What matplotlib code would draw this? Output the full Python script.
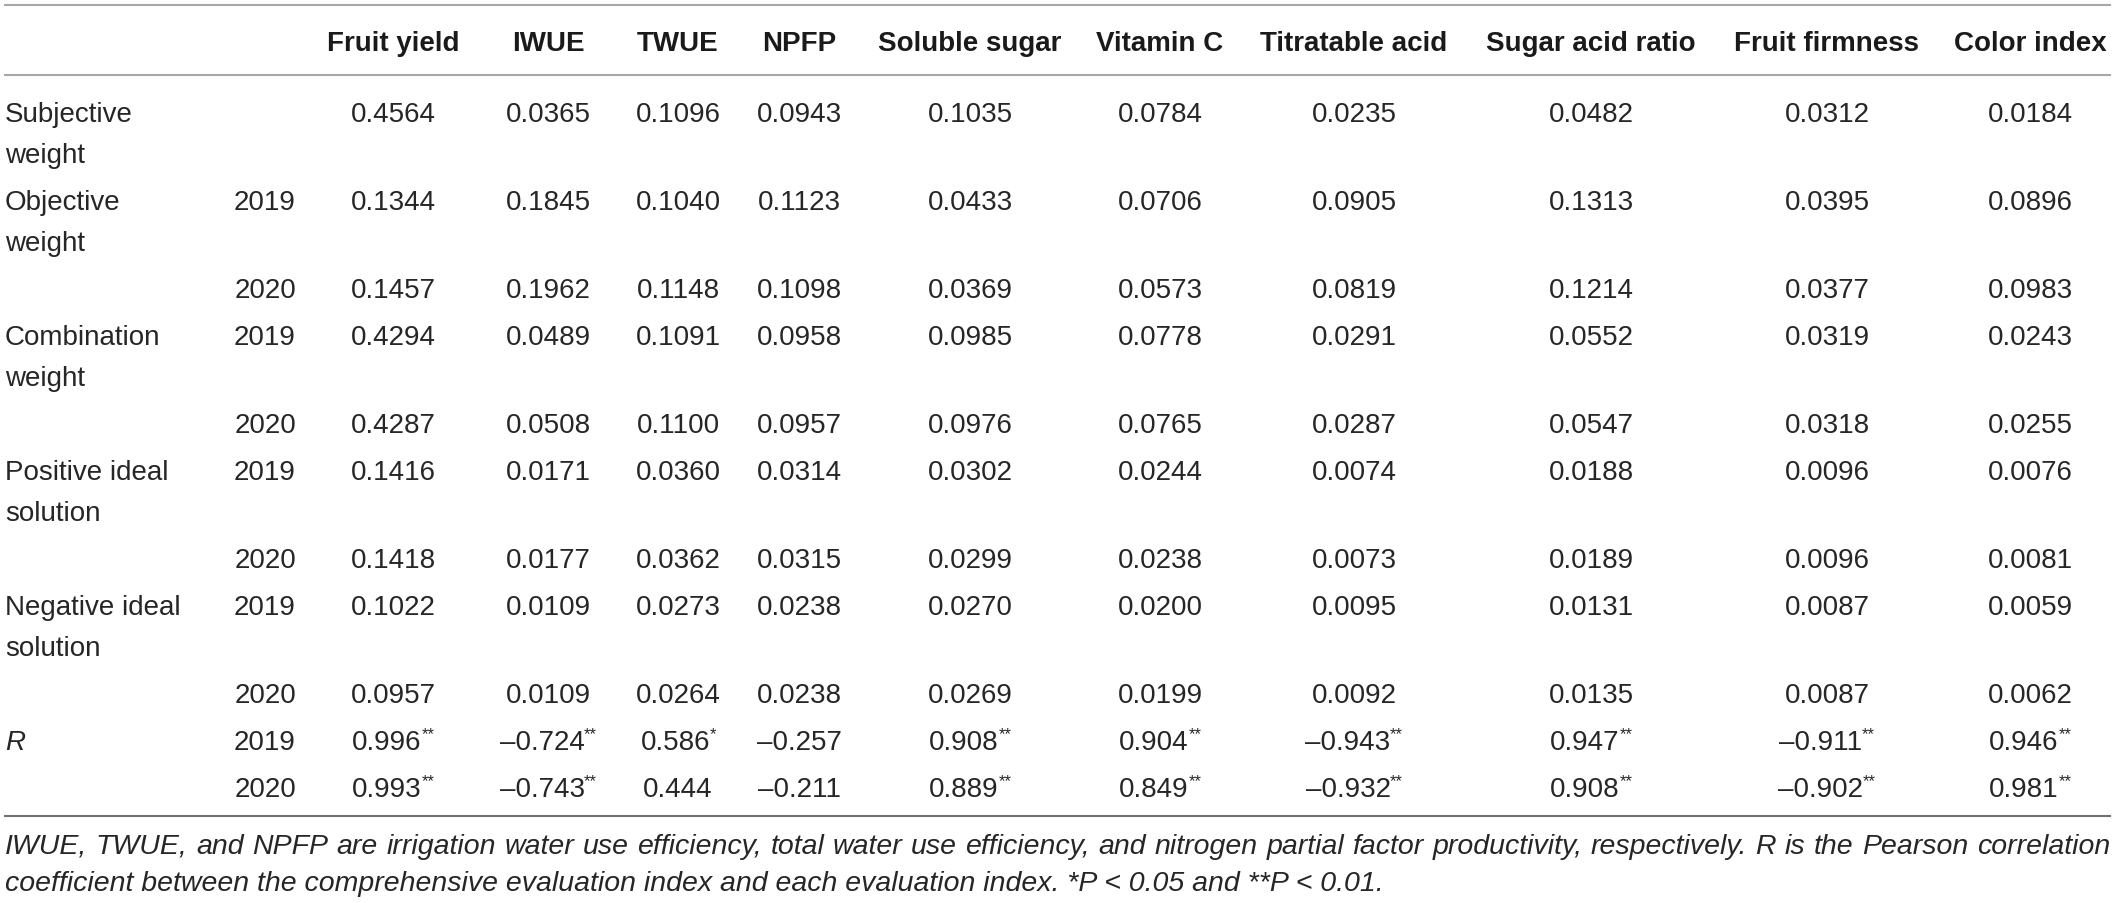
import matplotlib
matplotlib.use("Agg")
import matplotlib.pyplot as plt

plt.rcParams['font.family'] = ['Liberation Sans', 'DejaVu Sans']

W, H = 2117, 904

columns = ["Fruit yield", "IWUE", "TWUE", "NPFP", "Soluble sugar", "Vitamin C",
           "Titratable acid", "Sugar acid ratio", "Fruit firmness", "Color index"]

subjective = [0.4564, 0.0365, 0.1096, 0.0943, 0.1035, 0.0784, 0.0235, 0.0482, 0.0312, 0.0184]
objective_2019 = [0.1344, 0.1845, 0.1040, 0.1123, 0.0433, 0.0706, 0.0905, 0.1313, 0.0395, 0.0896]
objective_2020 = [0.1457, 0.1962, 0.1148, 0.1098, 0.0369, 0.0573, 0.0819, 0.1214, 0.0377, 0.0983]
combination_2019 = [0.4294, 0.0489, 0.1091, 0.0958, 0.0985, 0.0778, 0.0291, 0.0552, 0.0319, 0.0243]
combination_2020 = [0.4287, 0.0508, 0.1100, 0.0957, 0.0976, 0.0765, 0.0287, 0.0547, 0.0318, 0.0255]
positive_2019 = [0.1416, 0.0171, 0.0360, 0.0314, 0.0302, 0.0244, 0.0074, 0.0188, 0.0096, 0.0076]
positive_2020 = [0.1418, 0.0177, 0.0362, 0.0315, 0.0299, 0.0238, 0.0073, 0.0189, 0.0096, 0.0081]
negative_2019 = [0.1022, 0.0109, 0.0273, 0.0238, 0.0270, 0.0200, 0.0095, 0.0131, 0.0087, 0.0059]
negative_2020 = [0.0957, 0.0109, 0.0264, 0.0238, 0.0269, 0.0199, 0.0092, 0.0135, 0.0087, 0.0062]
r_2019 = [0.996, -0.724, 0.586, -0.257, 0.908, 0.904, -0.943, 0.947, -0.911, 0.946]
r_2019_sig = ["**", "**", "*", "", "**", "**", "**", "**", "**", "**"]
r_2020 = [0.993, -0.743, 0.444, -0.211, 0.889, 0.849, -0.932, 0.908, -0.902, 0.981]
r_2020_sig = ["**", "**", "", "", "**", "**", "**", "**", "**", "**"]

# (label lines, year, values, stars)
rows = [
    (["Subjective", "weight"], "", subjective, None),
    (["Objective", "weight"], "2019", objective_2019, None),
    ([], "2020", objective_2020, None),
    (["Combination", "weight"], "2019", combination_2019, None),
    ([], "2020", combination_2020, None),
    (["Positive ideal", "solution"], "2019", positive_2019, None),
    ([], "2020", positive_2020, None),
    (["Negative ideal", "solution"], "2019", negative_2019, None),
    ([], "2020", negative_2020, None),
    (["R"], "2019", r_2019, r_2019_sig),
    ([], "2020", r_2020, r_2020_sig),
]

note1 = ("IWUE, TWUE, and NPFP are irrigation water use efficiency, total water use efficiency, "
         "and nitrogen partial factor productivity, respectively. R is the Pearson correlation")
note2 = ("coefficient between the comprehensive evaluation index and each evaluation index. "
         "*P < 0.05 and **P < 0.01.")

# layout
col_x = [393, 548, 678, 799, 970, 1160, 1354, 1591, 1827, 2030]
year_x = 265
left, right = 5, 2110
fs = 20
txt = '#262626'
cap = 10  # half cap height in px

fig = plt.figure(figsize=(W / 100, H / 100), dpi=100)
ax = fig.add_axes([0, 0, 1, 1])
ax.set_xlim(0, W)
ax.set_ylim(H, 0)
ax.axis('off')
renderer = fig.canvas.get_renderer()

ax.plot([left, right], [6, 6], color='#a8a8a8', lw=1.5)
ax.plot([left, right], [76, 76], color='#a8a8a8', lw=1.5)
ax.plot([left, right], [817, 817], color='#707070', lw=1.5)

for name, x in zip(columns, col_x):
    ax.text(x, 41 + cap, name, ha='center', va='baseline', fontsize=fs,
            fontweight='bold', color='#1a1a1a')


def width_px(t):
    return t.get_window_extent(renderer).width


y = 112
line_h = 41
gap = 47
for label, year, vals, stars in rows:
    for i, ln in enumerate(label):
        ax.text(left, y + i * line_h + cap, ln, ha='left', va='baseline', fontsize=fs,
                color=txt, style='italic' if ln == "R" else 'normal')
    if year:
        ax.text(year_x, y + cap, year, ha='center', va='baseline', fontsize=fs, color=txt)
    for j, v in enumerate(vals):
        if stars is None:
            ax.text(col_x[j], y + cap, f"{v:.4f}", ha='center', va='baseline',
                    fontsize=fs, color=txt)
            continue
        s = f"{abs(v):.3f}"
        if v < 0:
            s = "\u2013" + s
        num = ax.text(0, y + cap, s, ha='left', va='baseline', fontsize=fs, color=txt)
        wn = width_px(num)
        if stars[j]:
            st = ax.text(0, y + cap - 11, stars[j], ha='left', va='baseline',
                         fontsize=12, color=txt)
            ws = width_px(st) - 1
        else:
            st, ws = None, 0
        x0 = col_x[j] - (wn + ws) / 2
        num.set_x(x0)
        if st is not None:
            st.set_x(x0 + wn - 0.5)
    y += line_h * (max(len(label), 1) - 1) + gap

# footnote, first line justified
fnote = 20.5
words = note1.split(" ")
items = []
for w in words:
    t = ax.text(0, 844 + cap, w, ha='left', va='baseline', fontsize=fnote,
                style='italic', color=txt)
    items.append(t)
widths = [width_px(t) for t in items]
space = (right - left - sum(widths)) / (len(words) - 1)
x = left
for t, wd in zip(items, widths):
    t.set_x(x)
    x += wd + space
ax.text(left, 881 + cap, note2, ha='left', va='baseline', fontsize=fnote,
        style='italic', color=txt)

fig.savefig("out.png", dpi=100)
